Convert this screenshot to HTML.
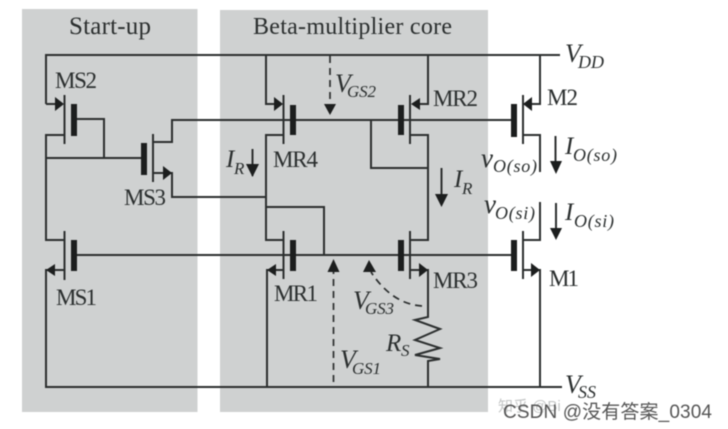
<!DOCTYPE html>
<html><head><meta charset="utf-8"><style>
html,body{margin:0;padding:0;background:#fff}
svg{display:block;filter:blur(.45px)}
text{font-family:"Liberation Serif",serif;fill:#2b2f2f;font-size:23px}
.i{font-style:italic}
.w{font-family:"Liberation Sans","Noto Sans CJK SC",sans-serif;fill:#555}
</style></head><body>
<svg width="728" height="429" viewBox="0 0 728 429" xmlns="http://www.w3.org/2000/svg">
<rect width="728" height="429" fill="#fff"/>
<rect x="22" y="9" width="175.500" height="403" fill="#cfd1d1"/>
<rect x="220" y="10" width="268" height="402" fill="#cfd1d1"/>
<g fill="none" stroke="#2c2f2f" stroke-width="2">
<path d="M46 104V55H560"/>
<path d="M46 104H60M64.500 135H46V240H64.500M77 119H104V158M46 158H141"/>
<path d="M64.500 95V144M64.500 231V280M153 134V182"/>
<path d="M153 142H172V120H511M153 173H172V197H266"/>
<path d="M77 255H511"/>
<path d="M64.500 270H46V387H562"/>
<path d="M266 55V104H280M283.500 135H266V240H283.500M266 207H324V255"/>
<path d="M283.500 95V144M283.500 231V279M410 95V144M410 231V279"/>
<path d="M283.500 270H267V387"/>
<path d="M428 55V104H414M410 135H428V240H410M371 120V168H428"/>
<path d="M410 270H428V317L415 320L440 329L415 340L440 348L415 355L440 359L428 361V387"/>
<path d="M540 55V104H526M523 95V144M523 135H540V172M540 202V240H523M523 231V279M523 270H540V387"/>
<path d="M252.500 149V176M441.500 168V195M555.500 136V162M556 203V228"/>
<path d="M330 56V104M333.500 382V272M422 306Q392 304 371 272" stroke-dasharray="7 5" stroke-width="1.700"/>
</g>
<g fill="#1c1e1e">
<path d="M64 104l-9-7v14z"/>
<path d="M172 173l-9-7v14z"/>
<path d="M46 270l9-6v12z"/>
<path d="M283 104l-9-7v14z"/>
<path d="M267 270l9-6v12z"/>
<path d="M411 104l9-6v12z"/>
<path d="M428 270l-9-7v14z"/>
<path d="M523 104l9-7v14z"/>
<path d="M540 270l-9-7v14z"/>
<path d="M246 164h13l-6.500 13zM435 194h13l-6.500 13zM550 161h12l-6 13zM550 228h12l-6 12z"/>
<path d="M330 115l-6-11h12zM333.500 259l-6 13h12zM369 260l-6 12h13z"/>
<rect x="71" y="104" width="6" height="32"/>
<rect x="141" y="143" width="6" height="32"/>
<rect x="71" y="240" width="6" height="31"/>
<rect x="290" y="105" width="6" height="30"/>
<rect x="290" y="240" width="6" height="31"/>
<rect x="398" y="105" width="6" height="30"/>
<rect x="398" y="240" width="6" height="31"/>
<rect x="511" y="104" width="6" height="33"/>
<rect x="511" y="240" width="6" height="31"/>
</g>
<text x="69" y="34" style="font-size:25px" textLength="82">Start-up</text>
<text x="253" y="34" style="font-size:24px" textLength="199">Beta-multiplier core</text>
<text x="55" y="88" textLength="42">MS2</text>
<text x="124" y="205" textLength="42">MS3</text>
<text x="56" y="305" textLength="41">MS1</text>
<text x="273" y="167" textLength="45">MR4</text>
<text x="433" y="106" textLength="45">MR2</text>
<text x="274" y="301" textLength="44">MR1</text>
<text x="433" y="288" textLength="45">MR3</text>
<text x="547" y="105" textLength="31">M2</text>
<text x="549" y="286" textLength="30">M1</text>

<text class="i" x="565" y="62" style="font-size:26px">V</text><text class="i" x="578" y="68" style="font-size:18px">DD</text>
<text class="i" x="565" y="393" style="font-size:26px">V</text><text class="i" x="578" y="398" style="font-size:18px">SS</text>
<text class="i" x="335" y="92" style="font-size:26px">V</text><text class="i" x="347" y="97" style="font-size:17px" textLength="29">GS2</text>
<text class="i" x="353" y="309" style="font-size:26px">V</text><text class="i" x="365" y="314" style="font-size:17px" textLength="29">GS3</text>
<text class="i" x="340" y="368" style="font-size:26px">V</text><text class="i" x="352" y="374" style="font-size:17px" textLength="29">GS1</text>
<text class="i" x="226" y="167" style="font-size:25px">I</text><text class="i" x="234" y="174" style="font-size:17px">R</text>
<text class="i" x="454" y="187" style="font-size:25px">I</text><text class="i" x="462" y="194" style="font-size:17px">R</text>
<text class="i" x="386" y="351" style="font-size:25px">R</text><text class="i" x="401" y="356" style="font-size:17px">S</text>
<text class="i" x="481" y="167" style="font-size:27px">v</text><text class="i" x="493" y="172" style="font-size:18px" textLength="44">O(so)</text>
<text class="i" x="484" y="213" style="font-size:27px">v</text><text class="i" x="495" y="219" style="font-size:18px" textLength="40">O(si)</text>
<text class="i" x="565" y="154" style="font-size:25px">I</text><text class="i" x="573" y="161" style="font-size:18px" textLength="44">O(so)</text>
<text class="i" x="565" y="220" style="font-size:25px">I</text><text class="i" x="574" y="227" style="font-size:18px" textLength="40">O(si)</text>
<text class="w" x="498" y="411" style="font-size:15px;fill:#c4c6c6">知乎 @Bi</text>
<text class="w" x="503" y="418" style="font-size:19px" textLength="209">CSDN @没有答案_0304</text>
</svg>
</body></html>
